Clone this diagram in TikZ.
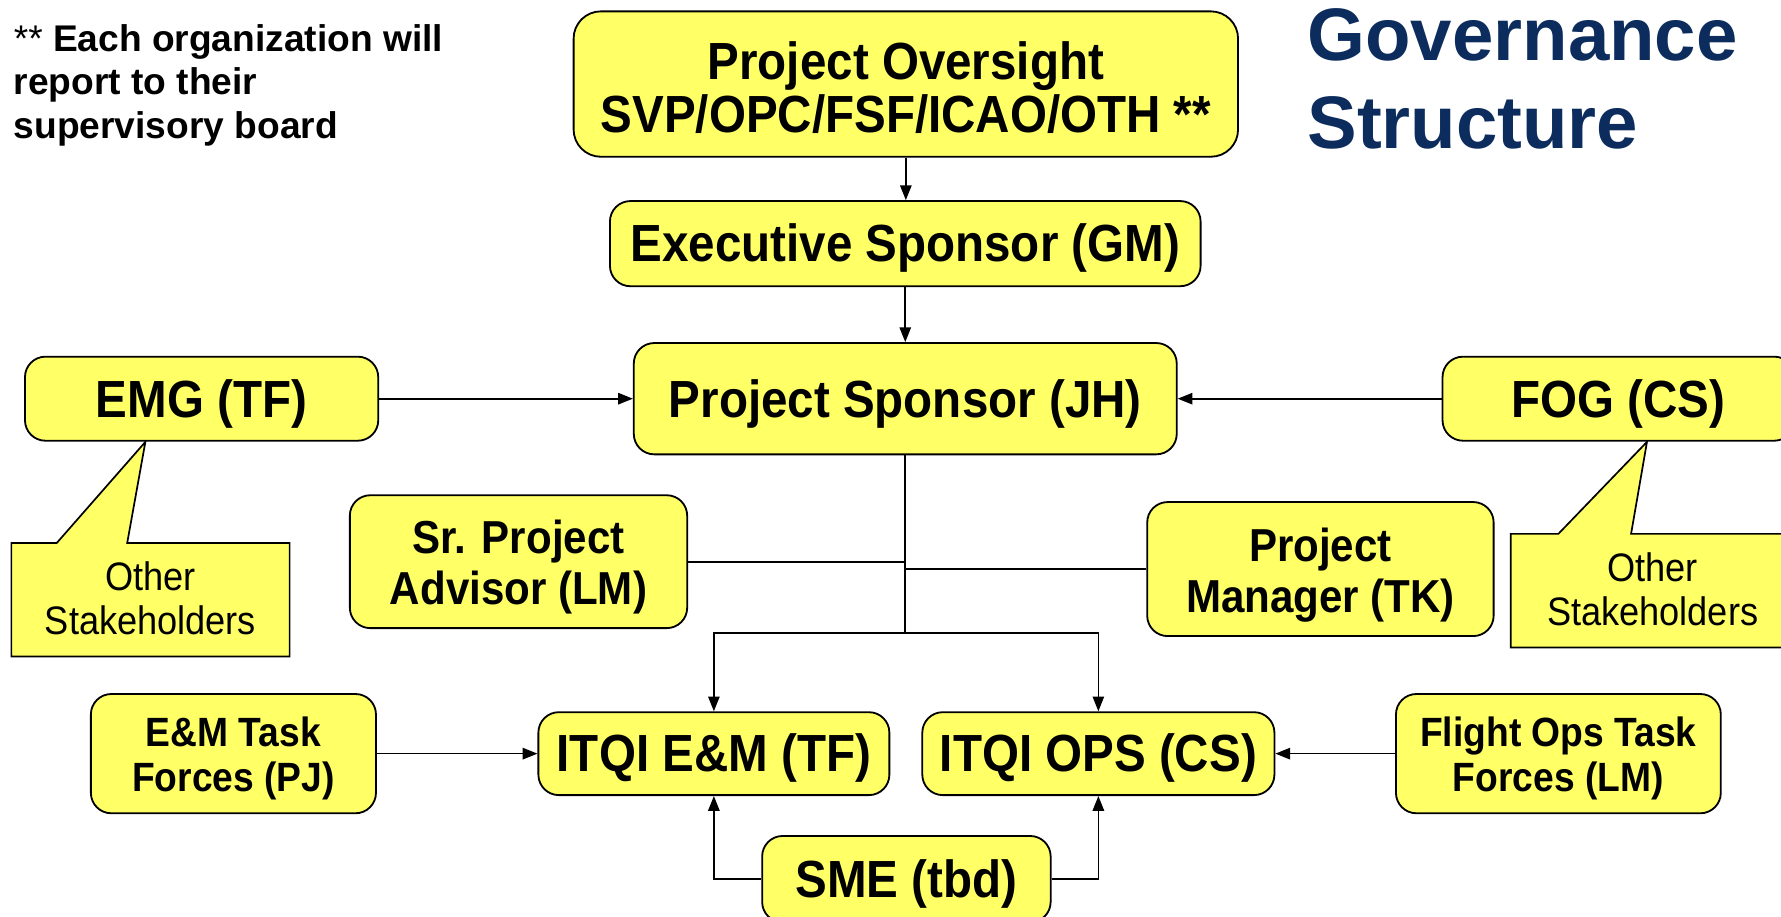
\documentclass[tikz,border=0pt]{standalone}
\usepackage{fontspec}
\setmainfont{Liberation Sans}
\newfontfamily\boxfont{Liberation Sans}[FakeStretch=0.91]
\usetikzlibrary{arrows.meta}
\definecolor{boxyellow}{RGB}{255,255,102}
\definecolor{titleblue}{RGB}{13,44,94}
\newcommand\tlift[1]{\rule{0pt}{#1}}
\begin{document}
\begin{tikzpicture}[x=1pt,y=-1pt,
  box/.style={draw=black,line width=1.6pt,fill=boxyellow,rounded corners=18pt,align=center,inner sep=0pt,
    font=\boxfont\bfseries\fontsize{46}{47}\selectfont},
  midtext/.style={font=\boxfont\bfseries\fontsize{40.7}{45}\selectfont},
  smalltext/.style={font=\boxfont\bfseries\fontsize{36}{40}\selectfont},
  callout/.style={draw=black,line width=1.5pt,fill=boxyellow},
  calltext/.style={align=center,inner sep=0pt,font=\boxfont\fontsize{35}{39}\selectfont},
  conn/.style={line width=1.5pt},
  arr/.style={line width=1.5pt,-{Triangle[length=13pt,width=10pt]}}]
\useasboundingbox (0,0) rectangle (1568,807);
\clip (0,0) rectangle (1568,807);
\fill[white] (0,0) rectangle (1568,807);

% callouts
\draw[callout] (10,478) -- (50,478) -- (128,389) -- (112,478) -- (255,478) -- (255,578) -- (10,578) -- cycle;
\node[calltext] (os1) at (132.5,527) {Other\\Stakeholders};
\draw[callout] (1330,470) -- (1372,470) -- (1450,389) -- (1436,470) -- (1580,470) -- (1580,570) -- (1330,570) -- cycle;
\node[calltext] (os2) at (1455,519) {Other\\Stakeholders};

% boxes
\node[box,rounded corners=24pt,minimum width=585pt,minimum height=128pt] (over) at (797.5,74) {\tlift{0.86em}Project Oversight\\SVP/OPC/FSF/ICAO/OTH **};
\node[box,minimum width=520pt,minimum height=75pt] (exec) at (797,214.5) {\tlift{0.9em}Executive Sponsor (GM)};
\node[box,minimum width=478pt,minimum height=98pt] (spon) at (797,351) {\tlift{0.92em}Project Sponsor (JH)};
\node[box,minimum width=311pt,minimum height=74pt] (emg) at (177.5,351) {\tlift{0.92em}EMG (TF)};
\node[box,minimum width=310pt,minimum height=74pt] (fog) at (1425,351) {\tlift{0.92em}FOG (CS)};
\node[box,midtext,minimum width=297pt,minimum height=117pt] (adv) at (456.5,494.5) {\tlift{0.97em}Sr. Project\\Advisor (LM)};
\node[box,midtext,minimum width=305pt,minimum height=118pt] (pm) at (1162.5,501) {\tlift{0.97em}Project\\Manager (TK)};
\node[box,minimum width=309pt,minimum height=73pt] (iem) at (628.5,663.5) {\tlift{0.9em}ITQI E\&M (TF)};
\node[box,minimum width=310pt,minimum height=73pt] (iops) at (967,663.5) {\tlift{0.9em}ITQI OPS (CS)};
\node[box,smalltext,minimum width=251pt,minimum height=105pt] (emtf) at (205.5,663.5) {\tlift{0.95em}E\&M Task\\Forces (PJ)};
\node[box,smalltext,minimum width=286pt,minimum height=105pt] (fotf) at (1372,663.5) {\tlift{0.95em}Flight Ops Task\\Forces (LM)};
\node[box,minimum width=254pt,minimum height=76pt] (sme) at (798,774) {\tlift{0.9em}SME (tbd)};

% texts
\node[anchor=north west,inner sep=0pt,align=left,font=\bfseries\fontsize{32.7}{38.5}\selectfont] (note) at (12,21) {{\mdseries **} Each organization will\\report to their\\supervisory board};
\node[anchor=north west,inner sep=0pt,align=left,text=titleblue,font=\bfseries\fontsize{65.5}{78}\selectfont] (title) at (1151,7) {Governance\\Structure};

% connectors
\draw[arr] (over.south) -- (over.south |- exec.north);
\draw[arr] (exec.south) -- (spon.north);
\draw[arr] (emg.east) -- (spon.west);
\draw[arr] (fog.west) -- (spon.east);
\coordinate (j) at (797,557);
\draw[conn] (spon.south) -- (j);
\draw[conn] (adv.east) -- (adv.east -| spon.south);
\draw[conn] (pm.west) -- (pm.west -| spon.south);
\draw[arr] (j) -| (iem.north);
\draw[arr] (j) -| (iops.north);
\draw[arr] (emtf.east) -- (iem.west);
\draw[arr] (fotf.west) -- (iops.east);
\draw[arr] (sme.west) -| (iem.south);
\draw[arr] (sme.east) -| (iops.south);
\end{tikzpicture}
\end{document}
